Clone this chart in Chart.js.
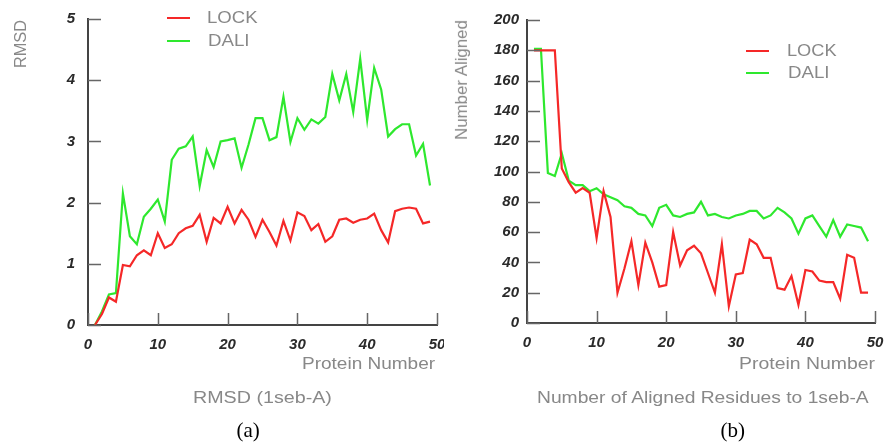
<!DOCTYPE html>
<html>
<head>
<meta charset="utf-8">
<script src="https://cdn.jsdelivr.net/npm/chart.js@4.4.0/dist/chart.umd.min.js"></script>
<style>
    body { margin: 0; background: #fff; width: 888px; height: 445px; overflow: hidden; position: relative; font-family: "Liberation Sans", Arial, sans-serif; }
    canvas { position: absolute; top: 0; }
    .lbl { position: absolute; white-space: nowrap; color: #888; font-size: 16px; line-height: 1; }
    .cap { position: absolute; white-space: nowrap; font-family: "Liberation Serif", "Times New Roman", serif; font-size: 21px; color: #000; line-height: 1; }
    .swatch { position: absolute; height: 2px; width: 23px; }
</style>
</head>
<body>
<canvas id="rmsdChart" width="444" height="445" style="left:0"></canvas>
<canvas id="alignedChart" width="444" height="445" style="left:444px"></canvas>
<script>
// protein number on the x axis
const proteins = [1, 2, 3, 4, 5, 6, 7, 8, 9, 10, 11, 12, 13, 14, 15, 16, 17, 18, 19, 20,
    21, 22, 23, 24, 25, 26, 27, 28, 29, 30, 31, 32, 33, 34, 35, 36, 37, 38, 39, 40,
    41, 42, 43, 44, 45, 46, 47, 48, 49];

// (a) RMSD to 1seb-A
const rmsdLock = [0, 0.18, 0.45, 0.38, 0.98, 0.96, 1.14, 1.22, 1.14, 1.5, 1.26, 1.32, 1.5, 1.58, 1.62, 1.8, 1.36, 1.75, 1.66, 1.93,
    1.66, 1.88, 1.72, 1.44, 1.72, 1.52, 1.3, 1.7, 1.38, 1.84, 1.78, 1.55, 1.65, 1.36, 1.45, 1.72, 1.74, 1.67, 1.72, 1.74,
    1.82, 1.55, 1.35, 1.86, 1.9, 1.92, 1.9, 1.66, 1.69];
const rmsdDali = [0, 0.22, 0.5, 0.52, 2.15, 1.45, 1.32, 1.77, 1.9, 2.05, 1.69, 2.7, 2.88, 2.92, 3.08, 2.27, 2.86, 2.58, 3.0, 3.02,
    3.05, 2.57, 2.95, 3.38, 3.38, 3.02, 3.07, 3.73, 2.99, 3.38, 3.19, 3.36, 3.29, 3.4, 4.1, 3.67, 4.1, 3.48, 4.35, 3.35,
    4.2, 3.85, 3.08, 3.2, 3.28, 3.28, 2.77, 2.96, 2.28];

// (b) number of aligned residues to 1seb-A
const alignedLock = [180, 180, 180, 180, 102, 93, 86, 89, 86, 56, 87, 70, 20, 36, 54, 25, 53, 40, 24, 25,
    60, 38, 48, 51, 46, 33, 20, 52, 11, 32, 33, 55, 52, 43, 43, 23, 22, 31, 12, 35,
    34, 28, 27, 27, 16, 45, 43, 20, 20];
const alignedDali = [181, 181, 99, 97, 112, 94, 91, 91, 87, 89, 85, 83, 81, 77, 76, 72, 71, 64, 76, 78,
    71, 70, 72, 73, 80, 71, 72, 70, 69, 71, 72, 74, 74, 69, 71, 76, 73, 69, 59, 69,
    71, 64, 57, 68, 57, 65, 64, 63, 54];

const xTicks = [0, 10, 20, 30, 40, 50];
const rmsdTicks = [0, 1, 2, 3, 4, 5];
const alignedTicks = [0, 20, 40, 60, 80, 100, 120, 140, 160, 180, 200];

const seriesNames = ['LOCK', 'DALI'];
const seriesColors = ['#f52828', '#2ee82e'];

// short tick marks pointing into the plot
const innerTicks = {
    id: 'innerTicks',
    afterDraw(chart) {
        const ctx = chart.ctx;
        const a = chart.chartArea;
        const xs = chart.scales.x;
        const ys = chart.scales.y;
        ctx.save();
        ctx.strokeStyle = '#666';
        ctx.lineWidth = 1.5;
        ctx.beginPath();
        ys.ticks.forEach(t => {
            const p = Math.round(ys.getPixelForValue(t.value)) + 0.5;
            ctx.moveTo(a.left, p);
            ctx.lineTo(a.left + 13, p);
        });
        xs.ticks.forEach(t => {
            const p = Math.round(xs.getPixelForValue(t.value)) + 0.5;
            ctx.moveTo(p, a.bottom);
            ctx.lineTo(p, a.bottom - 12);
        });
        ctx.stroke();
        ctx.restore();
    }
};

const tickFont = { family: 'Liberation Sans', size: 15, weight: 'bold', style: 'italic' };

function makeChart(id, lock, dali, yTicks, area, yPad) {
    const ctx = document.getElementById(id).getContext('2d');
    return new Chart(ctx, {
        type: 'line',
        data: {
            datasets: [lock, dali].map((vals, i) => ({
                label: seriesNames[i],
                data: proteins.map((p, k) => ({ x: p, y: vals[k] })),
                borderColor: seriesColors[i],
                borderWidth: 2.2,
                pointRadius: 0,
                tension: 0,
                clip: 4
            }))
        },
        options: {
            responsive: false,
            animation: false,
            events: [],
            layout: {
                padding: { left: 0, top: area.top, right: 444 - area.right, bottom: 445 - area.bottom - 40 }
            },
            plugins: { legend: { display: false }, tooltip: { enabled: false } },
            scales: {
                x: {
                    type: 'linear',
                    min: xTicks[0],
                    max: xTicks[xTicks.length - 1],
                    afterBuildTicks: s => { s.ticks = xTicks.map(v => ({ value: v })); },
                    afterFit: s => { s.height = 40; s.paddingLeft = 0; s.paddingRight = 0; },
                    grid: { display: false, drawTicks: false },
                    border: { display: true, color: '#444', width: 2 },
                    ticks: { font: tickFont, color: '#2a2a2a', padding: 11, maxRotation: 0 }
                },
                y: {
                    type: 'linear',
                    min: yTicks[0],
                    max: yTicks[yTicks.length - 1],
                    afterBuildTicks: s => { s.ticks = yTicks.map(v => ({ value: v })); },
                    afterFit: s => { s.width = area.left; s.paddingTop = 0; s.paddingBottom = 0; },
                    grid: { display: false, drawTicks: false },
                    border: { display: true, color: '#444', width: 2 },
                    ticks: { font: tickFont, color: '#2a2a2a', padding: yPad }
                }
            }
        },
        plugins: [innerTicks]
    });
}

makeChart('rmsdChart', rmsdLock, rmsdDali, rmsdTicks, { left: 88, right: 437, top: 19, bottom: 325 }, 13);
makeChart('alignedChart', alignedLock, alignedDali, alignedTicks, { left: 83, right: 431, top: 20, bottom: 323 }, 8);

// text labels, stretched to the widths seen in the figure
function addText(text, cls) {
    const el = document.createElement('div');
    el.className = cls;
    el.textContent = text;
    document.body.appendChild(el);
    return el;
}

function spanText(text, left, right, cy) {
    const el = addText(text, 'lbl');
    const w = el.offsetWidth, h = el.offsetHeight;
    el.style.left = left + 'px';
    el.style.top = (cy - h / 2) + 'px';
    el.style.transformOrigin = 'left center';
    el.style.transform = 'scaleX(' + ((right - left) / w) + ')';
}

function upText(text, cx, cy, len) {
    const el = addText(text, 'lbl');
    const w = el.offsetWidth, h = el.offsetHeight;
    el.style.left = (cx - w / 2) + 'px';
    el.style.top = (cy - h / 2) + 'px';
    el.style.transform = 'rotate(-90deg) scaleX(' + (len / w) + ')';
}

function caption(text, cx, cy) {
    const el = addText(text, 'cap');
    el.style.left = (cx - el.offsetWidth / 2) + 'px';
    el.style.top = (cy - el.offsetHeight / 2) + 'px';
}

function swatch(color, left, top) {
    const el = document.createElement('div');
    el.className = 'swatch';
    el.style.background = color;
    el.style.left = left + 'px';
    el.style.top = top + 'px';
    document.body.appendChild(el);
}

// (a)
upText('RMSD', 20, 44, 48);
swatch(seriesColors[0], 167, 17);
swatch(seriesColors[1], 167, 40);
spanText(seriesNames[0], 207, 258, 18);
spanText(seriesNames[1], 208, 250, 41);
spanText('Protein Number', 302, 435, 364);
spanText('RMSD (1seb-A)', 193, 332, 398);
caption('(a)', 248, 430);

// (b)
upText('Number Aligned', 462, 80, 120);
swatch(seriesColors[0], 746, 50);
swatch(seriesColors[1], 746, 72);
spanText(seriesNames[0], 787, 837, 51);
spanText(seriesNames[1], 788, 830, 73);
spanText('Protein Number', 739, 875, 364);
spanText('Number of Aligned Residues to 1seb-A', 537, 869, 398);
caption('(b)', 733, 430);
</script>
</body>
</html>
